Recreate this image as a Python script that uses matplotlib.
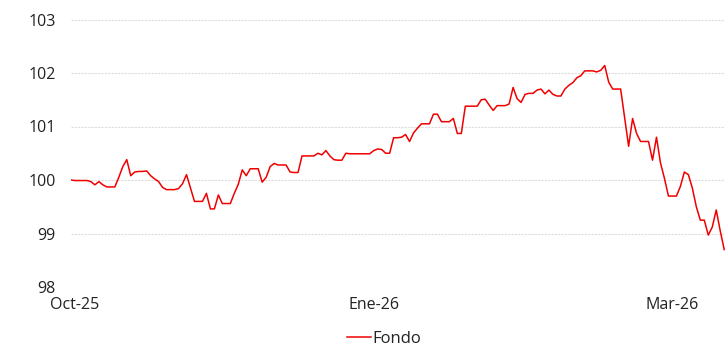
import numpy as np
import matplotlib.pyplot as plt

# fund value, one point per day
fondo = [
	100.0, 99.99, 99.99, 99.99, 99.99, 99.97, 99.91, 99.97, 99.91, 99.87,
	99.87, 99.87, 100.05, 100.25, 100.38, 100.08, 100.15, 100.16, 100.16, 100.17,
	100.08, 100.02, 99.97, 99.86, 99.82, 99.82, 99.82, 99.84, 99.93, 100.1,
	99.85, 99.6, 99.6, 99.6, 99.75, 99.46, 99.46, 99.72, 99.56, 99.56,
	99.56, 99.75, 99.92, 100.19, 100.08, 100.21, 100.21, 100.21, 99.96, 100.05,
	100.25, 100.31, 100.28, 100.28, 100.28, 100.15, 100.14, 100.14, 100.45, 100.45,
	100.45, 100.45, 100.5, 100.47, 100.55, 100.45, 100.38, 100.37, 100.37, 100.5,
	100.49, 100.49, 100.49, 100.49, 100.49, 100.49, 100.55, 100.58, 100.57, 100.5,
	100.5, 100.79, 100.79, 100.8, 100.85, 100.72, 100.88, 100.97, 101.05, 101.05,
	101.05, 101.23, 101.23, 101.09, 101.09, 101.09, 101.15, 100.87, 100.87, 101.38,
	101.38, 101.38, 101.38, 101.5, 101.51, 101.4, 101.3, 101.39, 101.39, 101.39,
	101.42, 101.73, 101.52, 101.45, 101.6, 101.62, 101.62, 101.68, 101.7, 101.61,
	101.68, 101.6, 101.57, 101.57, 101.7, 101.77, 101.82, 101.91, 101.95, 102.04,
	102.04, 102.04, 102.02, 102.05, 102.14, 101.83, 101.7, 101.7, 101.7, 101.17,
	100.63, 101.15, 100.87, 100.72, 100.72, 100.72, 100.37, 100.8, 100.32, 100.03,
	99.7, 99.7, 99.7, 99.88, 100.15, 100.1, 99.85, 99.5, 99.25, 99.25,
	98.97, 99.12, 99.44, 99.05, 98.7,
]
tick_pos = [1, 76, 151]
tick_labels = ['Oct-25', 'Ene-26', 'Mar-26']
y_ticks = [98, 99, 100, 101, 102, 103]

plt.rcParams['font.family'] = ['Open Sans', 'DejaVu Sans']

fig = plt.figure(figsize=(7.25, 3.46), dpi=100)
ax = fig.add_axes([71/725, 1 - 287/346, 1 - 71/725, (287 - 19.5)/346])

x = np.arange(len(fondo))
ax.plot(x, fondo, color='#f00000', lw=1.1, label='Fondo')

ax.set_xlim(0, len(fondo) - 0.8)
ax.set_ylim(98, 103)
ax.set_yticks(y_ticks)
ax.set_xticks(tick_pos)
ax.set_xticklabels(tick_labels)
ax.tick_params(length=0, labelsize=11.5, labelcolor='#222222')
ax.tick_params(axis='y', pad=11)
ax.tick_params(axis='x', pad=7)
ax.yaxis.grid(True, color='#dcdcdc', lw=0.8, linestyle=(0, (2, 1)))
ax.set_axisbelow(True)
for s in ax.spines.values():
	s.set_visible(False)

fig.legend(loc='lower center', bbox_to_anchor=(0.53, -0.045), frameon=False,
	fontsize=12, handlelength=1.4, handletextpad=0.1, labelcolor='#222222')

fig.savefig('out.png', dpi=100)
